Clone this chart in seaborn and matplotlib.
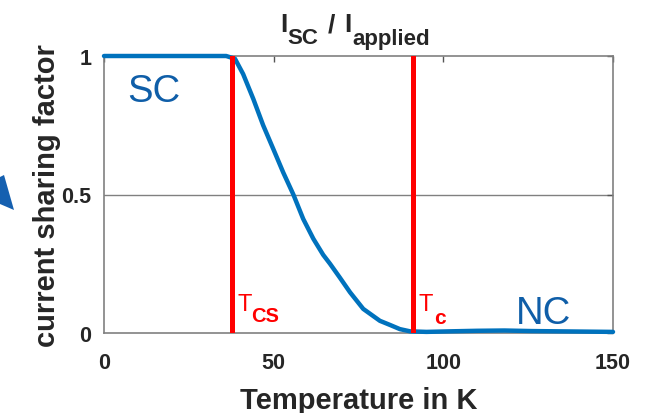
import matplotlib
matplotlib.use("Agg")
import matplotlib.pyplot as plt
from matplotlib.patches import Polygon
import seaborn as sns
import pandas as pd

# Current sharing factor vs. temperature
temperature = [0, 10, 20, 30, 36, 38.6, 41, 44, 46.9, 49.9, 52.8, 55.8,
               58.7, 61.7, 64.6, 66.6, 69.5, 72.5, 76.4, 81.3, 84.3, 87.2,
               90.2, 95, 102, 110, 118, 126, 134, 142, 150]
sharing = [1.0, 1.0, 1.0, 1.0, 1.0, 0.99, 0.935, 0.845, 0.75, 0.664, 0.58,
           0.50, 0.412, 0.34, 0.282, 0.25, 0.20, 0.147, 0.087, 0.044,
           0.029, 0.014, 0.006, 0.004, 0.006, 0.008, 0.009, 0.007, 0.006,
           0.005, 0.004]

t_cs = 37.7
t_c = 91.2

x_ticks = [0, 50, 100, 150]
y_ticks = [0, 0.5, 1]
y_tick_labels = ["0", "0.5", "1"]

W, H = 652, 414

sns.set_style("white")
plt.rcParams["font.family"] = ["Liberation Sans", "DejaVu Sans"]

fig = plt.figure(figsize=(W / 100, H / 100), dpi=100)
ax = fig.add_axes([104 / W, 1 - 334 / H, 509 / W, 277 / H])

df = pd.DataFrame({"T": temperature, "f": sharing})

ax.axhline(0.5, color="#808080", lw=1.0, zorder=0)

sns.lineplot(data=df, x="T", y="f", ax=ax, color="#0072BD", lw=3.2,
             zorder=3, clip_on=False)
for tv in (t_cs, t_c):
    ax.axvline(tv, color="#FF0000", lw=3.6, zorder=4)

ax.set_xlim(0, 150)
ax.set_ylim(0, 1)
ax.set_xticks(x_ticks)
ax.set_yticks(y_ticks)
ax.set_yticklabels(y_tick_labels)
ax.tick_params(direction="in", length=4, width=1, color="#555555",
               top=True, right=True, labelsize=15.5, labelcolor="#262626")
ax.tick_params(axis="x", pad=14)
ax.tick_params(axis="y", pad=9)
for lbl in ax.get_xticklabels() + ax.get_yticklabels():
    lbl.set_fontweight("bold")
for sp in ax.spines.values():
    sp.set_color("#808080")
    sp.set_linewidth(1.2)

ax.set_xlabel("Temperature in K", fontsize=21, fontweight="bold",
              color="#262626")
ax.set_ylabel("current sharing factor", fontsize=21, fontweight="bold",
              color="#262626")
ax.xaxis.set_label_coords(0.5, (334 - 409) / 277)
ax.xaxis.label.set_va("baseline")
ax.yaxis.set_label_coords((55 - 104) / 509, 0.5)
ax.yaxis.label.set_va("baseline")


def put(x, y, s, **kw):
    """Place text with its left baseline at pixel (x, y) from the top-left."""
    fig.text(x / W, 1 - y / H, s, ha="left", va="baseline", **kw)


# title: I_SC / I_applied
dark = "#262626"
put(280, 32.5, "I", fontsize=19, fontweight="bold", color=dark)
put(287.5, 44.5, "SC", fontsize=16, fontweight="bold", color=dark)
put(327.5, 32.5, "/", fontsize=19, fontweight="bold", color=dark)
put(344.5, 32.5, "I", fontsize=19, fontweight="bold", color=dark)
put(352, 44.5, "applied", fontsize=16, fontweight="bold", color=dark)

# phase labels
blue_txt = "#0F5EA8"
put(127, 101.5, "SC", fontsize=27.5, color=blue_txt)
put(516, 324.5, "NC", fontsize=27.5, color=blue_txt)

# temperature markers
put(237, 311.5, "T", fontsize=17, color="#FF0000")
put(251, 322.5, "CS", fontsize=14.5, fontweight="bold", color="#FF0000")
put(418.5, 311.5, "T", fontsize=17, color="#FF0000")
put(434.5, 324.5, "c", fontsize=15, fontweight="bold", color="#FF0000")

# arrow tip entering from the left margin
tip = [(0, 178), (4, 176), (14, 211), (0, 205)]
fig.patches.append(Polygon([(x / W, 1 - y / H) for x, y in tip],
                           closed=True, transform=fig.transFigure,
                           facecolor="#1560B0", edgecolor="none"))

fig.savefig("out.png", dpi=100)
